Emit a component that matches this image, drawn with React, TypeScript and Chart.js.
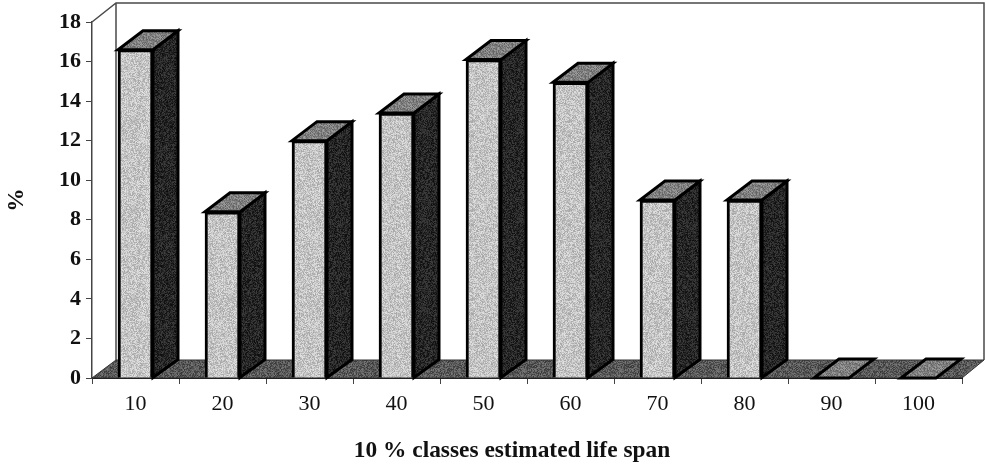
import React, { useEffect, useRef } from "react";
import { Chart, registerables } from "chart.js";

Chart.register(...registerables);

const categories = ["10", "20", "30", "40", "50", "60", "70", "80", "90", "100"];
const shares = [16.6, 8.4, 12.0, 13.4, 16.1, 14.95, 9.0, 9.0, 0, 0];
const yTitle = "%";
const xTitle = "10 % classes estimated life span";

const SERIF = '"Liberation Serif", "Times New Roman", serif';
const DEPTH_X = 24;
const DEPTH_Y = 18;
const BAR_DEPTH_X = 25;
const BAR_DEPTH_Y = 19;

function speckle(base: number, spread: number, seed: number): CanvasPattern | string {
  const c = document.createElement("canvas");
  c.width = 97;
  c.height = 89;
  const ctx = c.getContext("2d");
  if (!ctx) return `rgb(${base},${base},${base})`;
  const img = ctx.createImageData(c.width, c.height);
  let h = seed;
  for (let i = 0; i < img.data.length; i += 4) {
    h = (h * 1103515245 + 12345) & 0x7fffffff;
    const v = base + (((h >> 12) % 201) / 100 - 1) * spread;
    img.data[i] = v;
    img.data[i + 1] = v;
    img.data[i + 2] = v;
    img.data[i + 3] = 255;
  }
  ctx.putImageData(img, 0, 0);
  return ctx.createPattern(c, "repeat") ?? `rgb(${base},${base},${base})`;
}

function poly(ctx: CanvasRenderingContext2D, pts: number[][], fill: any, stroke: string, lw: number) {
  ctx.beginPath();
  pts.forEach((p, i) => (i ? ctx.lineTo(p[0], p[1]) : ctx.moveTo(p[0], p[1])));
  ctx.closePath();
  if (fill) {
    ctx.fillStyle = fill;
    ctx.fill();
  }
  if (lw > 0) {
    ctx.strokeStyle = stroke;
    ctx.lineWidth = lw;
    ctx.lineJoin = "miter";
    ctx.stroke();
  }
}

export default function App() {
  const ref = useRef<HTMLCanvasElement>(null);

  useEffect(() => {
    if (!ref.current) return;
    const frontFill = speckle(196, 32, 11);
    const sideFill = speckle(38, 26, 23);
    const topFill = speckle(128, 32, 37);
    const floorFill = speckle(88, 34, 51);

    const box3d = {
      id: "box3d",
      beforeDatasetsDraw(chart: any) {
        const { ctx, chartArea: a } = chart;
        ctx.save();
        ctx.strokeStyle = "#4a4a4a";
        ctx.lineWidth = 1.5;
        ctx.beginPath();
        ctx.moveTo(a.left, a.top);
        ctx.lineTo(a.left + DEPTH_X, a.top - DEPTH_Y - 1);
        ctx.lineTo(a.right + DEPTH_X - 2, a.top - DEPTH_Y - 1);
        ctx.lineTo(a.right + DEPTH_X - 2, a.bottom - DEPTH_Y);
        ctx.moveTo(a.left + DEPTH_X, a.top - DEPTH_Y - 1);
        ctx.lineTo(a.left + DEPTH_X, a.bottom - DEPTH_Y);
        ctx.stroke();
        poly(
          ctx,
          [
            [a.left, a.bottom],
            [a.left + DEPTH_X, a.bottom - DEPTH_Y],
            [a.right + DEPTH_X - 2, a.bottom - DEPTH_Y],
            [a.right, a.bottom],
          ],
          floorFill,
          "#333",
          1
        );
        const bars = chart.getDatasetMeta(0).data;
        bars.forEach((b: any) => {
          const l = b.x - b.width / 2;
          const r = b.x + b.width / 2;
          const t = b.y;
          const base = b.base;
          if (base - t > 0.5) {
            poly(
              ctx,
              [
                [r, t],
                [r + BAR_DEPTH_X, t - BAR_DEPTH_Y],
                [r + BAR_DEPTH_X, base - DEPTH_Y],
                [r, base],
              ],
              sideFill,
              "#000",
              3
            );
          }
          poly(
            ctx,
            [
              [l, t],
              [r, t],
              [r + BAR_DEPTH_X, t - BAR_DEPTH_Y],
              [l + BAR_DEPTH_X, t - BAR_DEPTH_Y],
            ],
            topFill,
            "#000",
            3
          );
        });
        ctx.restore();
      },
      afterDraw(chart: any) {
        const { ctx } = chart;
        ctx.save();
        ctx.fillStyle = "#111";
        ctx.font = `bold 23.4px ${SERIF}`;
        ctx.textAlign = "center";
        ctx.textBaseline = "middle";
        ctx.fillText(xTitle, 512, 451);
        ctx.translate(17, 200);
        ctx.rotate(-Math.PI / 2);
        ctx.fillText(yTitle, 0, 0);
        ctx.restore();
      },
    };

    const chart = new Chart(ref.current, {
      type: "bar",
      plugins: [box3d],
      data: {
        labels: categories,
        datasets: [
          {
            data: shares,
            backgroundColor: frontFill as any,
            borderColor: "#000",
            borderWidth: 3,
            barThickness: 35,
          },
        ],
      },
      options: {
        responsive: false,
        animation: false,
        events: [],
        layout: { padding: { left: 0, right: 24, top: 22, bottom: 0 } },
        plugins: { legend: { display: false }, tooltip: { enabled: false }, title: { display: false } },
        scales: {
          x: {
            afterFit: (s: any) => {
              s.height = 87;
            },
            grid: { display: true, drawOnChartArea: false, drawTicks: true, tickLength: 6, color: "#444", offset: true },
            border: { display: true, color: "#111", width: 2 },
            ticks: { color: "#111", font: { family: SERIF, size: 22 }, padding: 7, maxRotation: 0 },
          },
          y: {
            min: 0,
            max: 18,
            afterFit: (s: any) => {
              s.width = 92;
            },
            grid: { display: true, drawOnChartArea: false, drawTicks: true, tickLength: 6, color: "#444" },
            border: { display: true, color: "#444", width: 1.5 },
            ticks: { stepSize: 2, color: "#111", font: { family: SERIF, size: 22, weight: "bold" }, padding: 5 },
          },
        },
      },
    });
    return () => chart.destroy();
  }, []);

  return (
    <div style={{ position: "fixed", left: 0, top: 0, width: 986, height: 465, background: "#fff" }}>
      <canvas ref={ref} width={986} height={465} style={{ display: "block", width: 986, height: 465, filter: "blur(0.7px)" }} />
    </div>
  );
}
